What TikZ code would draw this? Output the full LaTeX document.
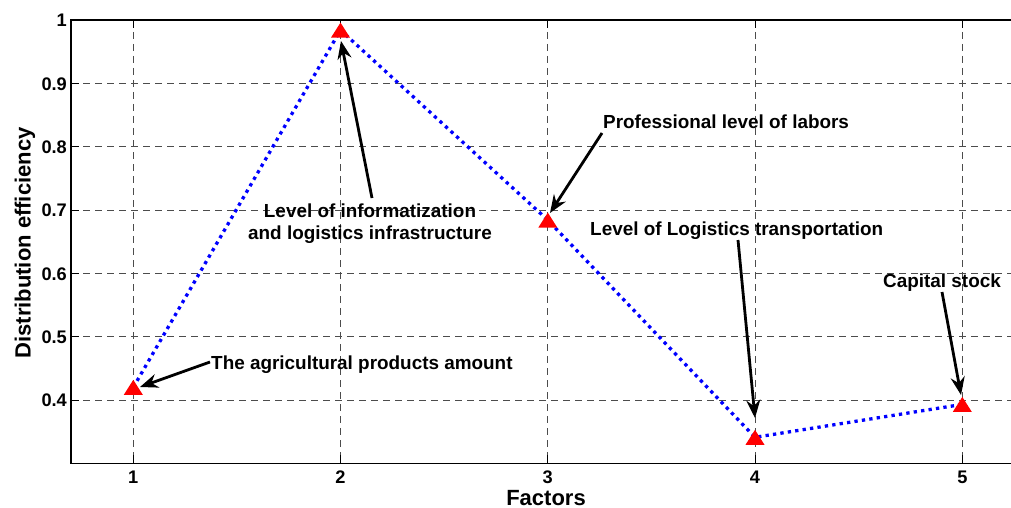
\documentclass[tikz,border=0pt]{standalone}
\usepackage{fontspec}
\setmainfont{Liberation Sans}
\usetikzlibrary{arrows.meta}
\begin{document}
\begin{tikzpicture}[x=1pt,y=-1pt,
  gridline/.style={draw=black!70, line width=0.8pt, dash pattern=on 7pt off 5pt},
  axisline/.style={draw=black, line width=1.3pt},
  tickmark/.style={draw=black, line width=1pt},
  ticklab/.style={font=\fontsize{18.2}{20}\selectfont\bfseries, inner sep=0pt},
  axlab/.style={font=\fontsize{22}{24}\selectfont\bfseries, inner sep=0pt},
  annot/.style={font=\fontsize{18.9}{21.5}\selectfont\bfseries, inner sep=0pt, align=center},
  callout/.style={draw=black, line width=2.8pt, -{Stealth[length=18pt,width=14pt,inset=6pt]}},
  dataline/.style={draw=blue, line width=3.3pt, dash pattern=on 3.3pt off 4.2pt},
  marker/.style={fill=red},
]
\useasboundingbox (0,0) rectangle (1011,508);
\fill[white] (0,0) rectangle (1011,508);
% grid
\foreach \x in {133.3,340.5,547.8,755,962.3}
  \draw[gridline] (\x,20) -- (\x,463.3);
\foreach \y in {83.3,146.7,210,273.3,336.7,400}
  \draw[gridline] (71,\y) -- (1011,\y);
% axes
\draw[axisline] (1011,20) -- (71,20) -- (71,463.3) -- (1011,463.3);
\foreach \x in {133.3,340.5,547.8,755,962.3}{
  \draw[tickmark] (\x,463.3) -- (\x,455);
  \draw[tickmark] (\x,20) -- (\x,28.3);}
\foreach \y in {83.3,146.7,210,273.3,336.7,400}
  \draw[tickmark] (71,\y) -- (79.3,\y);
% tick labels
\node[ticklab, anchor=base east] (yt10) at (67,26.8) {1};
\node[ticklab, anchor=base east] (yt9) at (67,90.1) {0.9};
\node[ticklab, anchor=base east] (yt8) at (67,153.5) {0.8};
\node[ticklab, anchor=base east] (yt7) at (67,216.8) {0.7};
\node[ticklab, anchor=base east] (yt6) at (67,280.1) {0.6};
\node[ticklab, anchor=base east] (yt5) at (67,343.5) {0.5};
\node[ticklab, anchor=base east] (yt4) at (67,406.8) {0.4};
\node[ticklab, anchor=base] (xt1) at (133.3,483.5) {1};
\node[ticklab, anchor=base] (xt2) at (340.5,483.5) {2};
\node[ticklab, anchor=base] (xt3) at (547.8,483.5) {3};
\node[ticklab, anchor=base] (xt4) at (755,483.5) {4};
\node[ticklab, anchor=base] (xt5) at (962.3,483.5) {5};
% axis labels
\node[axlab, anchor=base] (xlab) at (546,505) {Factors};
\node[axlab, rotate=90, anchor=base] (ylab) at (30.5,243) {Distribution efficiency};
% data
\coordinate (p1) at (133.3,387.3);
\coordinate (p2) at (340.5,30.1);
\coordinate (p3) at (547.8,220.1);
\coordinate (p4) at (755,437.3);
\coordinate (p5) at (962.3,404.4);
\draw[dataline] (p1) -- (p2) -- (p3) -- (p4) -- (p5);
\foreach \p in {p1,p2,p3,p4,p5}
  \fill[marker] (\p) ++(-9.5,7.5) -- ++(19,0) -- ++(-9.5,-15) -- cycle;
% annotations
\node[annot, anchor=base west] (a1) at (211,369) {The agricultural products amount};
\node[annot, anchor=north] (a2) at (370,204) {Level of informatization\\and logistics infrastructure};
\node[annot, anchor=base west] (a3) at (603,128.5) {Professional level of labors};
\node[annot, anchor=base west] (a4) at (590,235.5) {Level of Logistics transportation};
\node[annot, anchor=base west] (a5) at (883,287) {Capital stock};
\coordinate (t1) at (210,362);  \coordinate (h1) at (140,387);
\coordinate (t2) at (372,198);  \coordinate (h2) at (341,41);
\coordinate (t3) at (602,133);  \coordinate (h3) at (550,213);
\coordinate (t4) at (738,240);  \coordinate (h4) at (755,418);
\coordinate (t5) at (942,292);  \coordinate (h5) at (961,395);
\draw[callout] (t1) -- (h1);
\draw[callout] (t2) -- (h2);
\draw[callout] (t3) -- (h3);
\draw[callout] (t4) -- (h4);
\draw[callout] (t5) -- (h5);
\end{tikzpicture}
\end{document}
